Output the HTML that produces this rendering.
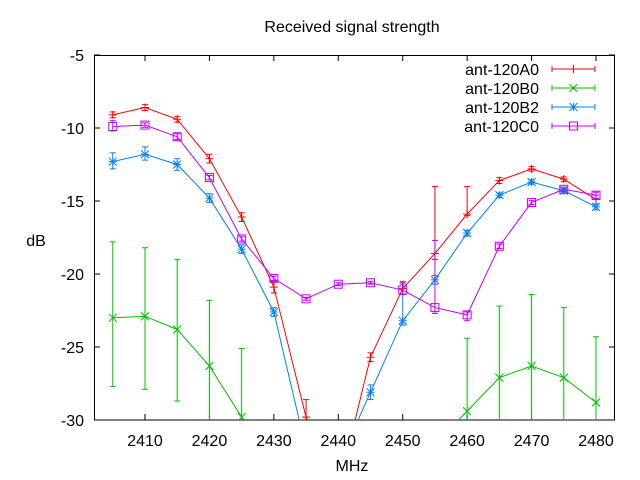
<!DOCTYPE html>
<html><head><meta charset="utf-8"><style>
html,body{margin:0;background:#fff;overflow:hidden;width:640px;height:480px}
svg{display:block}
svg text{font-family:"Liberation Sans",sans-serif;font-size:16px;fill:#000}
</style></head><body>
<svg id="s" width="640" height="480" xmlns="http://www.w3.org/2000/svg">
<defs><clipPath id="c"><rect x="94" y="55" width="521" height="365"/></clipPath></defs>
<rect width="640" height="480" fill="#fff"/>
<g id="axes"></g>
<g id="data" clip-path="url(#c)"></g>
<g id="leg"></g>
<text x="352" y="32" text-anchor="middle">Received signal strength</text>
<text x="36" y="246" text-anchor="middle">dB</text>
<text x="352" y="471" text-anchor="middle">MHz</text>
</svg>
<script>
const NS="http://www.w3.org/2000/svg";
function X(f){return 145+(f-2410)*6.443}
function Y(d){return 55+(-5-d)*14.6}
function el(p,t,a,txt){const e=document.createElementNS(NS,t);for(const k in a)e.setAttribute(k,a[k]);if(txt!=null)e.textContent=txt;p.appendChild(e);return e}
const ax=document.getElementById('axes'),dg=document.getElementById('data'),lg=document.getElementById('leg');
for(let d=-5;d>=-30;d-=5){const y=Y(d);el(ax,'line',{x1:94,x2:100,y1:y,y2:y,stroke:'#000'});el(ax,'line',{x1:609,x2:615,y1:y,y2:y,stroke:'#000'});
el(ax,'text',{x:84,y:y+6,'text-anchor':'end'},String(d))}
for(let f=2410;f<=2480;f+=10){const x=X(f);el(ax,'line',{x1:x,x2:x,y1:420,y2:414,stroke:'#000'});el(ax,'line',{x1:x,x2:x,y1:55,y2:61,stroke:'#000'});
el(ax,'text',{x:x,y:446,'text-anchor':'middle'},String(f))}
el(ax,'rect',{x:94.5,y:55.5,width:520,height:364.5,fill:'none',stroke:'#000'});
const F=[2405,2410,2415,2420,2425,2430,2435,2440,2445,2450,2455,2460,2465,2470,2475,2480];
const S=[
{c:'#ff0000',m:'+',v:[-9.1,-8.6,-9.4,-12.1,-16.1,-20.9,-29.8,-34.7,-25.7,-21,-18.6,-15.9,-13.6,-12.8,-13.5,-14.9],
 e:[[.2,.2],[.2,.2],[.2,.2],[.3,.3],[.3,.3],[.4,.4],[.5,1.2],[.3,.3],[.3,.3],[.4,.4],[.4,4.6],[.1,1.9],[.2,.2],[.15,.15],[.15,.15],[.3,.3]]},
{c:'#00c000',m:'x',v:[-23,-22.9,-23.8,-26.3,-29.8,-36,-37,-37,-37,-37,-31.6,-29.4,-27.1,-26.3,-27.1,-28.8],
 e:[[4.7,5.2],[5,4.7],[4.9,4.8],[4.5,4.5],[4.7,4.7],[1,1],[1,1],[1,1],[1,1],[1,1],[1,1],[4.6,5],[4.9,4.9],[4.9,4.9],[4.9,4.8],[4.7,4.5]]},
{c:'#0080ff',m:'*',v:[-12.3,-11.8,-12.5,-14.8,-18.3,-22.6,-32,-33,-28.1,-23.2,-20.4,-17.2,-14.6,-13.7,-14.3,-15.4],
 e:[[.5,.6],[.4,.5],[.4,.4],[.3,.3],[.3,.3],[.3,.3],[.3,.3],[.3,.3],[.5,.5],[.3,2.5],[.3,.3],[.2,.2],[.15,.15],[.15,.15],[.15,.15],[.2,.2]]},
{c:'#c000ff',m:'s',v:[-9.9,-9.8,-10.6,-13.4,-17.6,-20.3,-21.7,-20.7,-20.6,-21.1,-22.3,-22.8,-18.1,-15.1,-14.2,-14.6],
 e:[[.3,.4],[.15,.15],[.2,.2],[.15,.15],[.15,.15],[.15,.15],[.1,.1],[.1,.1],[.1,.1],[.3,.6],[.4,4.6],[.4,.2],[.15,.15],[.15,.15],[.15,.15],[.2,.2]]}];
function mark(p,m,x,y,c){const a={stroke:c,'stroke-width':1,fill:'none'};
 if(m=='+'||m=='*'){el(p,'line',Object.assign({x1:x-4,x2:x+4,y1:y,y2:y},a));el(p,'line',Object.assign({x1:x,x2:x,y1:y-4,y2:y+4},a))}
 if(m=='x'||m=='*'){el(p,'line',Object.assign({x1:x-4,x2:x+4,y1:y-4,y2:y+4},a));el(p,'line',Object.assign({x1:x-4,x2:x+4,y1:y+4,y2:y-4},a))}
 if(m=='s')el(p,'rect',Object.assign({x:x-4,y:y-4,width:8,height:8},a))}
S.forEach(s=>{
 el(dg,'polyline',{points:F.map((f,i)=>X(f)+','+Y(s.v[i])).join(' '),fill:'none',stroke:s.c,'stroke-width':1});
 F.forEach((f,i)=>{const x=X(f),y1=Y(s.v[i]-s.e[i][0]),y2=Y(s.v[i]+s.e[i][1]);
  el(dg,'line',{x1:x,x2:x,y1:y1,y2:y2,stroke:s.c});
  el(dg,'line',{x1:x-3,x2:x+3,y1:y1,y2:y1,stroke:s.c});el(dg,'line',{x1:x-3,x2:x+3,y1:y2,y2:y2,stroke:s.c});
  mark(dg,s.m,x,Y(s.v[i]),s.c)})});
const names=['ant-120A0','ant-120B0','ant-120B2','ant-120C0'];
S.forEach((s,i)=>{const y=69+i*19;
 el(lg,'text',{x:539,y:y+6,'text-anchor':'end'},names[i]);
 el(lg,'line',{x1:552,x2:595,y1:y,y2:y,stroke:s.c});
 el(lg,'line',{x1:552,x2:552,y1:y-3,y2:y+3,stroke:s.c});el(lg,'line',{x1:595,x2:595,y1:y-3,y2:y+3,stroke:s.c});
 mark(lg,s.m,573.5,y,s.c)});
</script>
</body></html>
